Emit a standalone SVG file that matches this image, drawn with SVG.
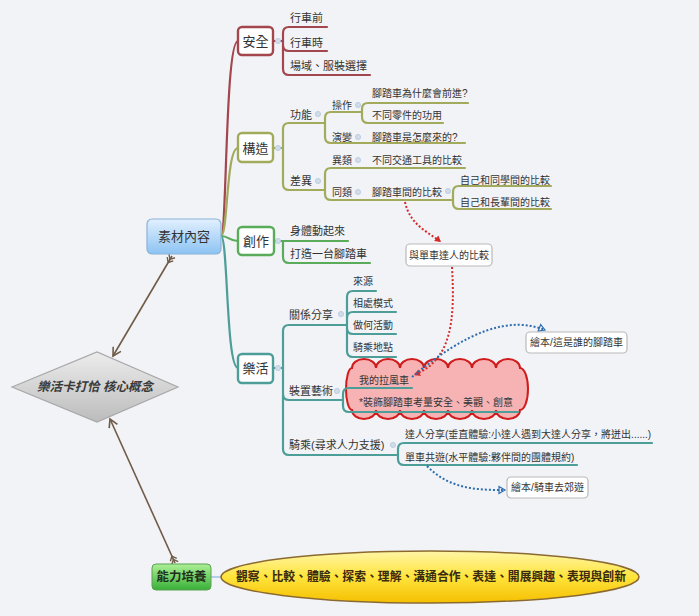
<svg xmlns="http://www.w3.org/2000/svg" width="699" height="616" viewBox="0 0 699 616">
<defs>
<style>
text{font-family:"Liberation Sans","Noto Sans CJK TC",sans-serif;fill:#333;dominant-baseline:central}
.t13{font-size:13px}
.t11{font-size:11px}
.t10{font-size:10px}
.box{fill:#fff;stroke-width:2.4}
.br{fill:none;stroke-width:2.2;stroke-linecap:round}
.dot{fill:#cfdcea;stroke:#b6c8dc;stroke-width:0.8}
.fl{fill:#fff;stroke:#b9b9b9;stroke-width:1.2}
</style>
<linearGradient id="gBlue" x1="0" y1="0" x2="0" y2="1"><stop offset="0" stop-color="#e2f0ff"/><stop offset="1" stop-color="#8cc3f2"/></linearGradient>
<linearGradient id="gGreen" x1="0" y1="0" x2="0" y2="1"><stop offset="0" stop-color="#aef096"/><stop offset="1" stop-color="#38b038"/></linearGradient>
<linearGradient id="gGray" x1="0" y1="0" x2="0" y2="1"><stop offset="0" stop-color="#ececec"/><stop offset="1" stop-color="#bcbcbc"/></linearGradient>
<linearGradient id="gYellow" x1="0" y1="0" x2="0" y2="1"><stop offset="0" stop-color="#fff6a6"/><stop offset="0.5" stop-color="#ffe43c"/><stop offset="1" stop-color="#f5bf00"/></linearGradient>
<marker id="arr" viewBox="-10 -6 12 12" refX="0" refY="0" markerWidth="12" markerHeight="12" markerUnits="userSpaceOnUse" orient="auto"><path d="M-8,-4.5 L0,0 L-8,4.5" fill="none" stroke="#6f5b47" stroke-width="1.6"/></marker>
<marker id="fea" viewBox="-2 -6 12 12" refX="0" refY="0" markerWidth="12" markerHeight="12" markerUnits="userSpaceOnUse" orient="auto"><path d="M0,-3.5 L4,0 L0,3.5 M3.5,-3.5 L7.5,0 L3.5,3.5" fill="none" stroke="#6f5b47" stroke-width="1.4"/></marker>
<marker id="ar" viewBox="-8 -5 10 10" refX="0" refY="0" markerWidth="10" markerHeight="10" markerUnits="userSpaceOnUse" orient="auto"><path d="M-6,-3.5 L0,0 L-6,3.5 Z" fill="#d42a2a"/></marker>
<marker id="ab" viewBox="-8 -5 10 10" refX="0" refY="0" markerWidth="10" markerHeight="10" markerUnits="userSpaceOnUse" orient="auto"><path d="M-6,-3.5 L0,0 L-6,3.5 Z" fill="none" stroke="#2d6eb0" stroke-width="1.2"/></marker>
</defs>
<rect width="699" height="616" fill="#f2f3f7"/>

<g id="cloud">
<path d="M352,368 a12,9 0 0 1 24,0 a12,9 0 0 1 24,0 a12,9 0 0 1 24,0 a12,9 0 0 1 24,0 a12,9 0 0 1 24,0 a12,9 0 0 1 24,0 a12,9 0 0 1 24,0 a8,21 0 0 1 0,42 a12,9 0 0 1 -24,0 a12,9 0 0 1 -24,0 a12,9 0 0 1 -24,0 a12,9 0 0 1 -24,0 a12,9 0 0 1 -24,0 a12,9 0 0 1 -24,0 a12,9 0 0 1 -24,0 a6,21 0 0 1 0,-42 Z" fill="#f7b3b3" stroke="#d01c1c" stroke-width="2"/>
</g>

<g id="connectors">
<path class="br" stroke="#a3464e" d="M221,236 C227,236 225,41 238,41"/>
<path class="br" stroke="#a2ab5c" d="M221,236 C228,236 226,148 238,148"/>
<path class="br" stroke="#5aab5a" d="M221,236 C229,236 229,241 238,241"/>
<path class="br" stroke="#4d9e98" d="M221,236 C228,236 226,368 238,368"/>

<path class="br" stroke="#a3464e" d="M273,41 H283 M283,41 V33 Q283,27 289,27 H327 M283,41 V45 Q283,51 289,51 H327 M283,41 V69 Q283,75 289,75 H370"/>

<path class="br" stroke="#a2ab5c" d="M273,148 H283 M283,148 V129 Q283,123 289,123 H325 M283,148 V184 Q283,190 289,190 H325
M325,123 V118 Q325,112 331,112 H362 M325,123 V137 Q325,143 331,143 H465
M362,112 V109 Q362,103 368,103 H468 M362,112 V117 Q362,123 368,123 H443
M325,190 V174 Q325,168 331,168 H465 M325,190 V194 Q325,200 331,200 H453
M453,200 V192 Q453,186 459,186 H551 M453,200 V203 Q453,209 459,209 H551"/>

<path class="br" stroke="#5aab5a" d="M273,241 H348 M283,241 V257 Q283,263 289,263 H370"/>

<path class="br" stroke="#4d9e98" d="M273,368 H283 M283,368 V331 Q283,325 289,325 H347 M283,368 V394 Q283,400 289,400 H343 M283,368 V449 Q283,455 289,455 H398
M347,325 V297 Q347,291 353,291 H376 M347,325 V318 Q347,312 353,312 H396 M347,325 V328 Q347,334 353,334 H396 M347,325 V351 Q347,357 353,357 H396
M343,400 V394 Q343,388 349,388 H412 M343,400 V406 Q343,412 349,412 H518
M398,455 V449 Q398,443 404,443 H652 M398,455 V459 Q398,465 404,465 H577"/>

<path d="M211,577 H221" stroke="#9ec3e6" stroke-width="1.5" fill="none"/>

<path d="M172,256 L113,356" stroke="#6f5b47" stroke-width="1.6" fill="none" marker-start="url(#fea)" marker-end="url(#arr)"/>
<path d="M175,563 L110,419" stroke="#6f5b47" stroke-width="1.6" fill="none" marker-start="url(#fea)" marker-end="url(#arr)"/>

<path d="M405,202 C410,225 428,232 441,242" stroke="#d42a2a" stroke-width="2" stroke-dasharray="2 2" fill="none" marker-end="url(#ar)"/>
<path d="M452,267 C455,320 452,360 414,375" stroke="#d42a2a" stroke-width="2" stroke-dasharray="2 2" fill="none" marker-end="url(#ar)"/>
<path d="M412,377 C468,330 510,316 545,330" stroke="#2d6eb0" stroke-width="2" stroke-dasharray="2 2" fill="none" marker-end="url(#ab)"/>
<path d="M427,466 C450,490 480,490 505,490" stroke="#2d6eb0" stroke-width="2" stroke-dasharray="2 2" fill="none" marker-end="url(#ab)"/>
</g>

<g id="dots">
<circle class="dot" cx="278" cy="41" r="2.6"/>
<circle class="dot" cx="278" cy="148" r="2.6"/>
<circle class="dot" cx="278" cy="241" r="2.6"/>
<circle class="dot" cx="278" cy="368" r="2.6"/>
<circle class="dot" cx="318" cy="114" r="2.6"/>
<circle class="dot" cx="358" cy="105" r="2.6"/>
<circle class="dot" cx="358" cy="137" r="2.6"/>
<circle class="dot" cx="318" cy="181" r="2.6"/>
<circle class="dot" cx="358" cy="160" r="2.6"/>
<circle class="dot" cx="358" cy="192" r="2.6"/>
<circle class="dot" cx="448" cy="191" r="2.6"/>
<circle class="dot" cx="341" cy="314" r="2.6"/>
<circle class="dot" cx="337" cy="391" r="2.6"/>
<circle class="dot" cx="393" cy="445" r="2.6"/>
</g>

<g id="core">
<polygon points="12,387 97,352 178,387 97,422" fill="url(#gGray)" stroke="#a8a8a8" stroke-width="1.2"/>
<text x="95" y="387" text-anchor="middle" style="font-size:12.5px;font-weight:bold;font-style:italic;fill:#3a3a3a">樂活卡打恰 核心概念</text>
</g>

<g id="sucai">
<rect x="147" y="219" width="74" height="35" rx="5" fill="url(#gBlue)" stroke="#8ab4d8" stroke-width="1.2"/>
<text class="t13" x="184" y="236.5" text-anchor="middle">素材內容</text>
</g>

<g id="nengli">
<rect x="152" y="564" width="59" height="26" rx="4" fill="url(#gGreen)" stroke="#5aa050" stroke-width="1"/>
<text x="181.5" y="577" text-anchor="middle" style="font-size:12.5px;font-weight:bold;fill:#1f2f1a">能力培養</text>
</g>

<g id="ability-list">
<ellipse cx="430" cy="577" rx="209" ry="26" fill="url(#gYellow)" stroke="#8a6a30" stroke-width="1.5"/>
<text x="431" y="577" text-anchor="middle" textLength="390" lengthAdjust="spacingAndGlyphs" style="font-size:12.5px;font-weight:bold;fill:#3a2a10">觀察、比較、體驗、探索、理解、溝通合作、表達、開展興趣、表現與創新</text>
</g>

<g id="anquan">
<rect class="box" x="238" y="27" width="35" height="28" rx="4" stroke="#a3464e"/>
<text class="t13" x="255.5" y="41" text-anchor="middle">安全</text>
</g>
<g id="anquan-1"><text class="t11" x="290" y="18">行車前</text></g>
<g id="anquan-2"><text class="t11" x="290" y="43">行車時</text></g>
<g id="anquan-3"><text class="t11" x="290" y="66">場域、服裝選擇</text></g>

<g id="gouzao">
<rect class="box" x="238" y="133" width="35" height="29" rx="4" stroke="#a2ab5c"/>
<text class="t13" x="255.5" y="148" text-anchor="middle">構造</text>
</g>
<g id="gongneng"><text class="t11" x="290" y="115">功能</text></g>
<g id="caozuo"><text class="t10" x="332" y="105">操作</text></g>
<g id="caozuo-1"><text class="t10" x="372" y="93">腳踏車為什麼會前進?</text></g>
<g id="caozuo-2"><text class="t10" x="372" y="115">不同零件的功用</text></g>
<g id="yanbian"><text class="t10" x="332" y="137">演變</text></g>
<g id="yanbian-1"><text class="t10" x="372" y="137">腳踏車是怎麼來的?</text></g>
<g id="chayi"><text class="t11" x="290" y="181">差異</text></g>
<g id="yilei"><text class="t10" x="332" y="160">異類</text></g>
<g id="yilei-1"><text class="t10" x="372" y="160">不同交通工具的比較</text></g>
<g id="tonglei"><text class="t10" x="332" y="192">同類</text></g>
<g id="tonglei-1"><text class="t10" x="372" y="192">腳踏車間的比較</text></g>
<g id="tonglei-1a"><text class="t10" x="460" y="180">自己和同學間的比較</text></g>
<g id="tonglei-1b"><text class="t10" x="460" y="202">自己和長輩間的比較</text></g>

<g id="chuangzuo">
<rect class="box" x="238" y="227" width="36" height="28" rx="4" stroke="#5aab5a"/>
<text class="t13" x="256" y="241" text-anchor="middle">創作</text>
</g>
<g id="chuangzuo-1"><text class="t11" x="290" y="231">身體動起來</text></g>
<g id="chuangzuo-2"><text class="t11" x="290" y="254">打造一台腳踏車</text></g>

<g id="lehuo">
<rect class="box" x="238" y="354" width="35" height="29" rx="4" stroke="#4d9e98"/>
<text class="t13" x="255.5" y="368.5" text-anchor="middle">樂活</text>
</g>
<g id="guanxi"><text class="t11" x="289" y="315">關係分享</text></g>
<g id="guanxi-1"><text class="t10" x="353" y="281">來源</text></g>
<g id="guanxi-2"><text class="t10" x="353" y="303">相處模式</text></g>
<g id="guanxi-3"><text class="t10" x="353" y="325">做何活動</text></g>
<g id="guanxi-4"><text class="t10" x="353" y="347">騎乘地點</text></g>
<g id="zhuangzhi"><text class="t11" x="289" y="391">裝置藝術</text></g>
<g id="zhuangzhi-1"><text class="t10" x="359" y="380">我的拉風車</text></g>
<g id="zhuangzhi-2"><text class="t10" x="359" y="402">*裝飾腳踏車考量安全、美觀、創意</text></g>
<g id="qicheng"><text class="t11" x="289" y="445">騎乘(尋求人力支援)</text></g>
<g id="qicheng-1"><text class="t10" x="405" y="434">達人分享(垂直體驗:小達人遇到大達人分享，將迸出......)</text></g>
<g id="qicheng-2"><text class="t10" x="405" y="457">單車共遊(水平體驗:夥伴間的團體規約)</text></g>

<g id="float-1">
<rect class="fl" x="406" y="244" width="86" height="22" rx="4"/>
<text class="t10" x="449" y="255" text-anchor="middle">與單車達人的比較</text>
</g>
<g id="float-2">
<rect class="fl" x="526" y="332" width="101" height="21" rx="4"/>
<text class="t10" x="576.5" y="342.5" text-anchor="middle">繪本/這是誰的腳踏車</text>
</g>
<g id="float-3">
<rect class="fl" x="507" y="477" width="81" height="21" rx="4"/>
<text class="t10" x="547.5" y="487.5" text-anchor="middle">繪本/騎車去郊遊</text>
</g>
</svg>
